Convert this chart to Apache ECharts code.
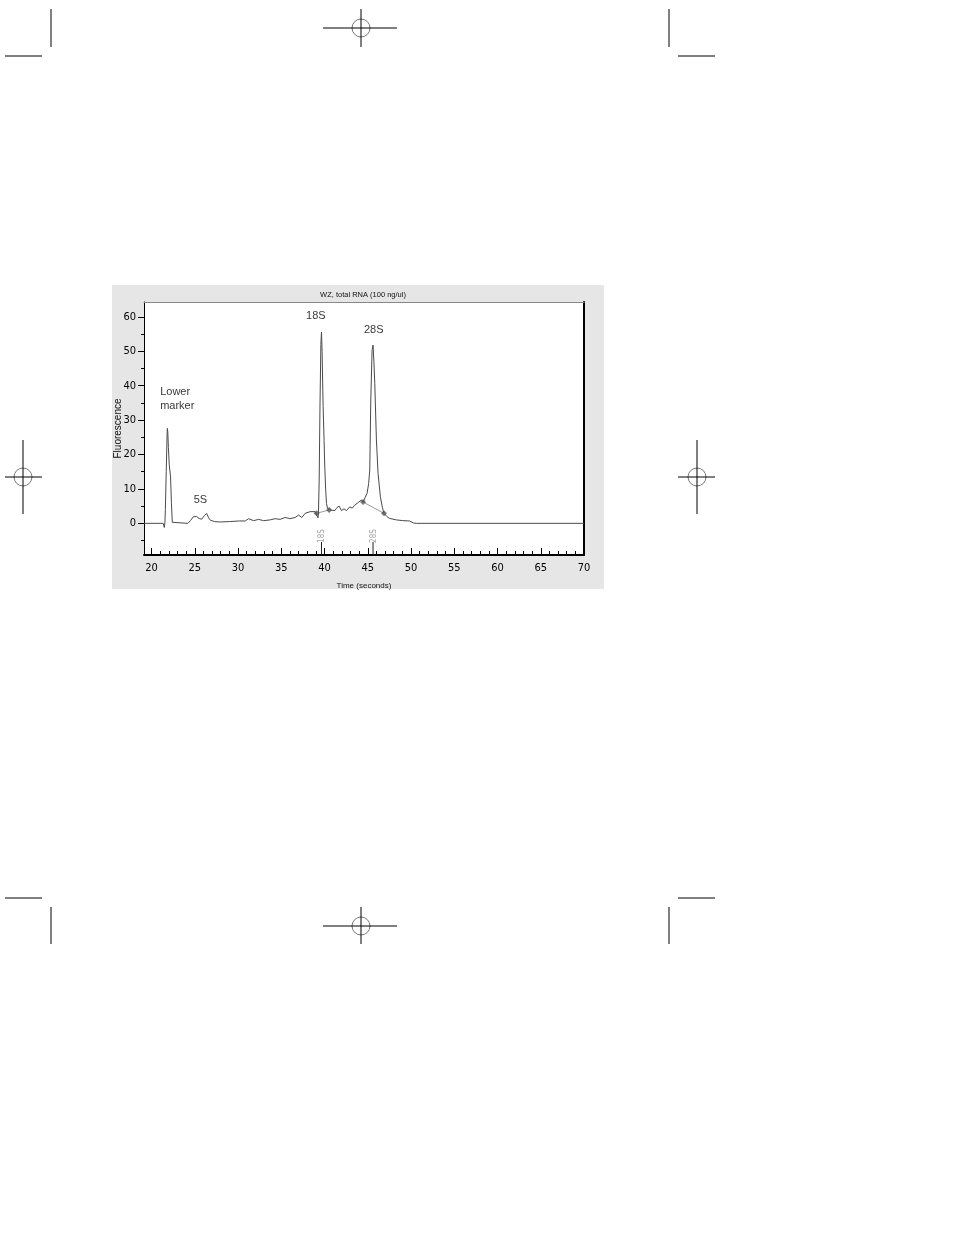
<!DOCTYPE html>
<html><head><meta charset="utf-8">
<script src="https://cdn.jsdelivr.net/npm/echarts@6/dist/echarts.min.js"></script>
<style>html,body{margin:0;padding:0;background:#fff}#c{width:954px;height:1235px}</style>
</head><body><div id="c"></div>
<script>
// ---- data ----
const timeSeconds = [19.13,21.35,21.48,21.55,21.6,21.7,21.8,21.83,21.88,21.95,22.05,22.2,22.3,22.4,22.6,
  24.2,24.5,24.83,25.2,25.5,25.8,26.1,26.37,26.6,26.8,27.3,27.9,29.0,30.2,30.83,31.22,31.8,32.38,32.95,
  33.72,34.3,34.87,35.45,36.0,36.6,37.0,37.38,37.76,38.34,38.91,39.08,39.25,39.3,39.38,39.48,39.58,39.65,
  39.72,39.84,39.95,40.03,40.13,40.23,40.35,40.53,40.85,41.19,41.45,41.69,41.96,42.25,42.54,42.92,43.2,
  43.5,43.88,44.27,44.46,44.7,44.92,45.1,45.23,45.35,45.5,45.61,45.71,45.81,46.0,46.19,46.46,46.7,46.88,
  47.2,47.5,48.3,49.0,49.85,50.3,50.6,70];
const fluorescence = [0,0,-1.2,0.3,4,15,26,27.6,26.5,22,17,13.5,6,0.3,0,
  0,0.8,1.9,2.0,1.4,1.2,2.2,2.9,1.6,0.9,0.5,0.4,0.5,0.7,0.67,1.35,0.77,1.15,0.77,
  1.0,1.35,1.15,1.7,1.35,1.7,2.4,1.7,2.9,3.4,3.4,2.9,1.6,3,12,35,52,55.6,
  50,33.9,24,16.4,10,5.8,4.3,3.9,3.8,3.7,4.6,5.0,3.7,4.2,3.7,4.8,4.4,
  5.3,6.0,6.8,6.2,7.5,8.7,11.5,15.5,35.8,50.3,51.8,47,40.7,24.2,14.5,7.7,4.5,2.9,
  2.0,1.45,1.0,0.8,0.67,0.1,0,0];

const peakNames = ['18S', '28S'];
const peakTimes = [39.65, 45.61];
const baseStartTime = [39.08, 44.46];
const baseStartValue = [2.9, 6.2];
const baseEndTime = [40.53, 46.88];
const baseEndValue = [3.9, 2.9];

const annotText = ['Lower\nmarker', '5S', '18S', '28S'];
const annotTime = [21.0, 25.66, 39.0, 45.69];
const annotValue = [36.1, 6.8, 60.2, 56.1];
const annotAlign = ['left', 'center', 'center', 'center'];

const xMin = 19.13, xMax = 70, yMin = -9.2, yMax = 64.3;
const xMajorTicks = [20, 25, 30, 35, 40, 45, 50, 55, 60, 65, 70];
const xMinorTicks = [21, 22, 23, 24, 26, 27, 28, 29, 31, 32, 33, 34, 36, 37, 38, 39, 41, 42, 43, 44,
  46, 47, 48, 49, 51, 52, 53, 54, 56, 57, 58, 59, 61, 62, 63, 64, 66, 67, 68, 69];
const yMajorTicks = [0, 10, 20, 30, 40, 50, 60];
const yMinorTicks = [-5, 5, 15, 25, 35, 45, 55];

const titleText = 'WZ, total RNA (100 ng/ul)';
const xName = 'Time (seconds)';
const yName = 'Fluorescence';

// ---- chart ----
const NARROW = "'Liberation Sans Narrow','DejaVu Sans Condensed','Liberation Sans',sans-serif";
const SANS = "'Liberation Sans',Arial,sans-serif";
const chart = echarts.init(document.getElementById('c'), null, {renderer: 'canvas'});

const trace = timeSeconds.map((t, i) => [t, fluorescence[i]]);

function lineEl(x1, y1, x2, y2) {
  return {type: 'line', shape: {x1, y1, x2, y2}, style: {stroke: '#000', lineWidth: 1}, silent: true};
}
function circleEl(cx, cy) {
  return {type: 'circle', shape: {cx, cy, r: 9}, style: {stroke: '#777', fill: null, lineWidth: 1}, silent: true};
}
const regMarks = [
  lineEl(51, 9, 51, 47), lineEl(5, 56, 42, 56),
  lineEl(669, 9, 669, 47), lineEl(678, 56, 715, 56),
  lineEl(5, 898, 42, 898), lineEl(51, 907, 51, 944),
  lineEl(678, 898, 715, 898), lineEl(669, 907, 669, 944),
  circleEl(361, 28), lineEl(323, 28, 397, 28), lineEl(361, 9, 361, 47),
  circleEl(361, 926), lineEl(323, 926, 397, 926), lineEl(361, 907, 361, 944),
  circleEl(23, 477), lineEl(5, 477, 42, 477), lineEl(23, 440, 23, 514),
  circleEl(697, 477), lineEl(678, 477, 715, 477), lineEl(697, 440, 697, 514)
];

const series = [];
series.push({
  type: 'line', xAxisIndex: 0, yAxisIndex: 0, data: trace, showSymbol: false,
  lineStyle: {color: '#4a4a4a', width: 1}, animation: false, z: 5
});
peakNames.forEach((n, i) => {
  series.push({
    type: 'line', xAxisIndex: 0, yAxisIndex: 0, showSymbol: false, animation: false,
    data: [[baseStartTime[i], baseStartValue[i]], [baseEndTime[i], baseEndValue[i]]],
    lineStyle: {color: '#9a9a9a', width: 1}, z: 4
  });
  series.push({
    type: 'line', xAxisIndex: 0, yAxisIndex: 0, showSymbol: false, animation: false,
    data: [[peakTimes[i], -5.4], [peakTimes[i], yMin]],
    lineStyle: {color: '#222', width: 1}, z: 4
  });
});
const markerPts = [];
peakNames.forEach((n, i) => {
  markerPts.push([baseStartTime[i], baseStartValue[i]]);
  markerPts.push([baseEndTime[i], baseEndValue[i]]);
});
series.push({
  type: 'scatter', data: markerPts, symbol: 'diamond', symbolSize: 6,
  itemStyle: {color: '#555'}, animation: false, z: 6
});
series.push({
  type: 'scatter', symbolSize: 0, animation: false, z: 6,
  data: peakNames.map((n, i) => ({name: n, value: [peakTimes[i] + 0.05, -3.7]})),
  label: {show: true, position: 'inside', rotate: 90, formatter: '{b}', color: '#8a8a8a',
    fontSize: 8, fontFamily: NARROW}
});
series.push({
  type: 'scatter', symbolSize: 0, animation: false, z: 6,
  data: annotText.map((s, i) => ({name: s, value: [annotTime[i], annotValue[i]],
    label: {align: annotAlign[i]}})),
  label: {show: true, position: 'inside', formatter: '{b}', color: '#000',
    fontSize: 11, lineHeight: 14, fontFamily: SANS}
});

const option = {
  backgroundColor: '#fff',
  animation: false,
  title: {
    text: titleText, left: 358, top: 286, textAlign: 'center',
    textStyle: {fontSize: 7.5, fontWeight: 'normal', color: '#111', fontFamily: SANS}
  },
  graphic: {elements: [
    {type: 'rect', shape: {x: 112, y: 285, width: 492, height: 304}, style: {fill: '#e6e6e6'}, z: -10, silent: true},
    {type: 'rect', shape: {x: 144, y: 302, width: 440, height: 253}, style: {fill: '#fff'}, z: -9, silent: true}
  ].concat(regMarks)},
  grid: {left: 144, top: 302, width: 440, height: 253, show: false},
  xAxis: [
    {type: 'value', min: xMin, max: xMax, position: 'bottom',
      axisLine: {onZero: false, lineStyle: {color: '#000', width: 2}},
      axisTick: {customValues: xMajorTicks, inside: true, length: 7, lineStyle: {color: '#000'}},
      axisLabel: {customValues: xMajorTicks, margin: 8, fontSize: 11, color: '#000', fontFamily: NARROW},
      splitLine: {show: false},
      name: xName, nameLocation: 'middle', nameGap: 27, nameMoveOverlap: false,
      nameTextStyle: {fontSize: 8, color: '#111', fontFamily: SANS}},
    {type: 'value', min: xMin, max: xMax, position: 'bottom',
      axisLine: {show: false, onZero: false},
      axisTick: {customValues: xMinorTicks, inside: true, length: 4, lineStyle: {color: '#000'}},
      axisLabel: {show: false}, splitLine: {show: false}},
    {type: 'value', min: xMin, max: xMax, position: 'top',
      axisLine: {onZero: false, lineStyle: {color: '#888', width: 1}},
      axisTick: {show: false}, axisLabel: {show: false}, splitLine: {show: false}}
  ],
  yAxis: [
    {type: 'value', min: yMin, max: yMax, position: 'left',
      axisLine: {show: true, onZero: false, lineStyle: {color: '#000', width: 1}},
      axisTick: {show: true, customValues: yMajorTicks, length: 6, lineStyle: {color: '#000'}},
      axisLabel: {customValues: yMajorTicks, margin: 8, fontSize: 11, color: '#000', fontFamily: NARROW},
      splitLine: {show: false},
      name: yName, nameLocation: 'middle', nameGap: 21, nameMoveOverlap: false,
      nameTextStyle: {fontSize: 10, color: '#111', fontFamily: SANS}},
    {type: 'value', min: yMin, max: yMax, position: 'left',
      axisLine: {show: false, onZero: false},
      axisTick: {show: true, customValues: yMinorTicks, length: 3, lineStyle: {color: '#000'}},
      axisLabel: {show: false}, splitLine: {show: false}},
    {type: 'value', min: yMin, max: yMax, position: 'right',
      axisLine: {show: true, onZero: false, lineStyle: {color: '#000', width: 2}},
      axisTick: {show: false}, axisLabel: {show: false}, splitLine: {show: false}}
  ],
  series: series
};
chart.setOption(option);
</script>
</body></html>
